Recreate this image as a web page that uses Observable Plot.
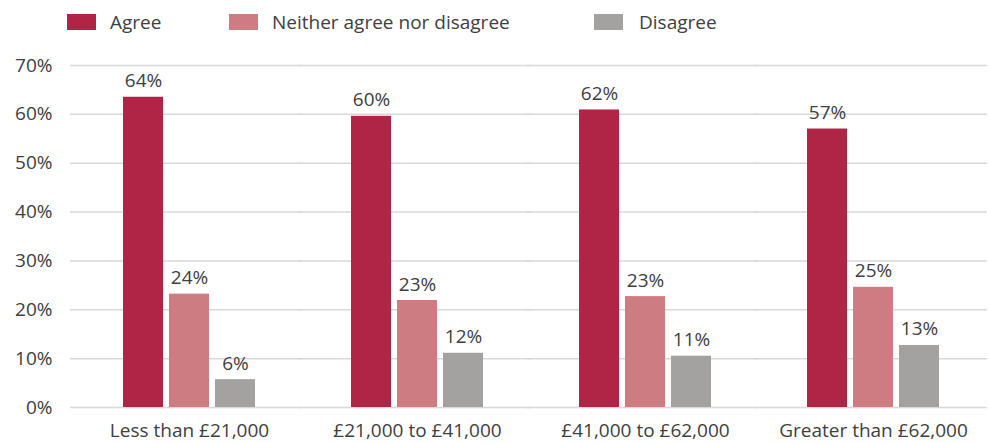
<!DOCTYPE html>
<html>
<head>
<meta charset="utf-8">
<script src="https://cdn.jsdelivr.net/npm/d3@7"></script>
<script src="https://cdn.jsdelivr.net/npm/@observablehq/plot@0.6"></script>
<style>
  html, body { margin: 0; padding: 0; background: #fff; }
  #wrap { width: 989px; height: 443px; position: relative; font-family: "Open Sans", sans-serif; color: #404040; }
  #legend { position: relative; height: 45px; width: 989px; }
  .sw { position: absolute; top: 14px; width: 29px; height: 16px; }
  .lt { position: absolute; top: 9px; font-size: 19px; line-height: 26px; white-space: nowrap; }
</style>
</head>
<body>
<div id="wrap">
  <div id="legend"></div>
  <div id="chart"></div>
</div>
<script>
const categories = ["Less than £21,000", "£21,000 to £41,000", "£41,000 to £62,000", "Greater than £62,000"];
const series = ["Agree", "Neither agree nor disagree", "Disagree"];
const colors = ["#b02546", "#cd7c82", "#a3a2a0"];
const agree = [63.5, 59.6, 60.9, 57.0];
const neither = [23.2, 21.9, 22.7, 24.6];
const disagree = [5.7, 11.1, 10.5, 12.7];
const agreeLabels = ["64%", "60%", "62%", "57%"];
const neitherLabels = ["24%", "23%", "23%", "25%"];
const disagreeLabels = ["6%", "12%", "11%", "13%"];
const yTicks = [0, 10, 20, 30, 40, 50, 60, 70];

const values = [agree, neither, disagree];
const labels = [agreeLabels, neitherLabels, disagreeLabels];
const data = [];
categories.forEach((c, i) => series.forEach((s, j) => {
  data.push({category: c, series: s, value: values[j][i], label: labels[j][i]});
}));

// legend
const legend = document.getElementById("legend");
const swX = [67, 229, 594];
const txX = [110, 272, 639];
series.forEach((s, j) => {
  const sw = document.createElement("div");
  sw.className = "sw"; sw.style.left = swX[j] + "px"; sw.style.background = colors[j];
  legend.appendChild(sw);
  const t = document.createElement("div");
  t.className = "lt"; t.style.left = txX[j] + "px"; t.textContent = s;
  legend.appendChild(t);
});

const chart = Plot.plot({
  width: 989,
  height: 398,
  marginLeft: 73,
  marginRight: 1,
  marginTop: 20,
  marginBottom: 36,
  style: {fontFamily: "Open Sans, sans-serif", fontSize: "19px", color: "#404040", background: "white", overflow: "visible"},
  fx: {domain: categories, padding: 0, label: null, axis: "bottom", tickSize: 0, tickPadding: 16},
  x: {domain: series, paddingInner: 0.13, paddingOuter: 1.0, axis: null},
  y: {domain: [0, 70], ticks: yTicks, tickFormat: d => d + "%", tickSize: 0, tickPadding: 23, label: null},
  color: {domain: series, range: colors},
  marks: [
    Plot.ruleY(yTicks, {stroke: "#d9d9d9", strokeWidth: 1.5, insetLeft: -5}),
    Plot.barY(data, {fx: "category", x: "series", y: "value", fill: "series"}),
    Plot.text(data, {fx: "category", x: "series", y: "value", text: "label", dy: -10, lineAnchor: "bottom", fill: "#404040", fontSize: 19})
  ]
});
document.getElementById("chart").appendChild(chart);
</script>
</body>
</html>
